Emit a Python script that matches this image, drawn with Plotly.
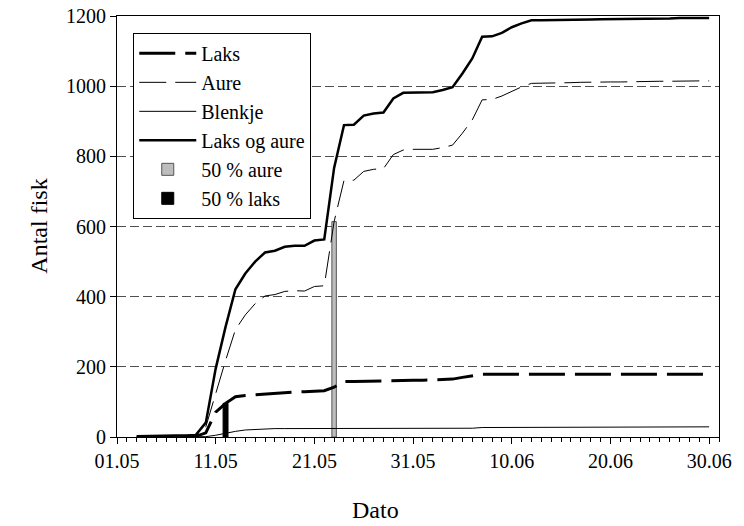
import pandas as pd
import plotly.graph_objects as go

# Daily counts from 03.05 to 30.06
dates = pd.date_range("2000-05-03", "2000-06-30", freq="D")

laks = [1, 1, 1, 1, 1, 1, 2, 12, 71, 96, 115, 118, 120, 124, 125, 127, 128, 129, 131, 132,
        142, 158, 158, 159, 159, 160, 160, 161, 162, 162, 163, 164, 165, 170, 175, 179, 179,
        179, 179, 179, 179, 179, 179, 179, 179, 179, 179, 179, 179, 179, 179, 179, 179, 179,
        179, 179, 179, 179, 179]
aure = [1, 2, 2, 2, 3, 3, 4, 29, 124, 218, 306, 348, 380, 402, 406, 415, 417, 416, 429, 431,
        614, 731, 732, 757, 763, 765, 805, 818, 820, 820, 820, 825, 832, 866, 904, 961, 962,
        972, 986, 998, 1008, 1008, 1008, 1009, 1010, 1011, 1012, 1012, 1012, 1012, 1013, 1013,
        1014, 1014, 1014, 1015, 1015, 1015, 1015]
blenkje = [0, 0, 0, 0, 0, 0, 0, 1, 5, 11, 16, 20, 22, 23, 24, 24, 24, 24, 24, 24,
           25, 25, 25, 25, 25, 25, 25, 25, 25, 25, 25, 25, 25, 25, 25, 27, 27, 27, 27, 27,
           27, 27, 27, 27, 27, 27, 27, 27, 27, 27, 27, 27, 29, 29, 29, 29, 29, 29, 29]
laks_og_aure = [2, 3, 3, 3, 4, 4, 6, 41, 195, 314, 421, 466, 500, 526, 531, 542, 545, 545,
                560, 563, 767, 889, 890, 916, 922, 925, 965, 981, 982, 983, 983, 989, 997,
                1036, 1079, 1141, 1142, 1152, 1168, 1179, 1188, 1188, 1188, 1188, 1188, 1189,
                1190, 1191, 1191, 1191, 1192, 1192, 1193, 1193, 1193, 1194, 1194, 1194, 1194]

# Dates when half of each species had passed
half_aure_date = ["2000-05-23"]
half_aure_value = [614]
half_laks_date = ["2000-05-12"]
half_laks_value = [96]

FONT = "Liberation Serif, Times New Roman, serif"
DAY_MS = 86400000

fig = go.Figure()

fig.add_trace(go.Bar(
    x=half_aure_date, y=half_aure_value, name="50 % aure", width=[0.45 * DAY_MS],
    marker=dict(color="#bdbdbd", line=dict(color="#555555", width=1)), legendrank=5))
fig.add_trace(go.Bar(
    x=half_laks_date, y=half_laks_value, name="50 % laks", width=[0.5 * DAY_MS],
    marker=dict(color="black", line=dict(color="black", width=1)), legendrank=6))

fig.add_trace(go.Scatter(
    x=dates, y=laks, name="Laks", mode="lines",
    line=dict(color="black", width=3, dash="36px,10px"), legendrank=1))
fig.add_trace(go.Scatter(
    x=dates, y=aure, name="Aure", mode="lines",
    line=dict(color="black", width=1, dash="27px,9px"), legendrank=2))
fig.add_trace(go.Scatter(
    x=dates, y=blenkje, name="Blenkje", mode="lines",
    line=dict(color="black", width=1), legendrank=3))
fig.add_trace(go.Scatter(
    x=dates, y=laks_og_aure, name="Laks og aure", mode="lines",
    line=dict(color="black", width=2.5), legendrank=4))

fig.update_layout(
    width=744, height=526,
    margin=dict(l=117, r=25, t=16, b=89, autoexpand=False),
    paper_bgcolor="white", plot_bgcolor="white",
    font=dict(family=FONT, size=20, color="black"),
    showlegend=True,
    barmode="overlay",
    legend=dict(
        x=0.027, y=0.96, xanchor="left", yanchor="top",
        bgcolor="white", bordercolor="black", borderwidth=1,
        font=dict(family=FONT, size=20), tracegroupgap=0, itemwidth=57,
    ),
    xaxis=dict(
        type="date", automargin=False,
        range=["2000-05-01", "2000-07-01"],
        tick0="2000-05-01", dtick=10 * DAY_MS, tickformat="%d.%m",
        ticks="outside", ticklen=6, tickcolor="black",
        showline=True, linecolor="black", linewidth=1, mirror=True,
        showgrid=False, zeroline=False,
        minor=dict(dtick=DAY_MS, tick0="2000-05-01", ticks="outside",
                   ticklen=4, tickcolor="black", showgrid=False),
        tickfont=dict(family=FONT, size=20),
    ),
    yaxis=dict(
        range=[0, 1200], dtick=200, automargin=False,
        ticks="outside", ticklen=6, tickcolor="black",
        showline=True, linecolor="black", linewidth=1, mirror=True,
        showgrid=True, gridcolor="#505050", gridwidth=1, griddash="9px,4px",
        zeroline=False,
        tickfont=dict(family=FONT, size=20),
    ),
    annotations=[
        dict(text="Dato", xref="paper", yref="paper", x=0.43, y=-0.173,
             xanchor="center", yanchor="middle", showarrow=False,
             font=dict(family=FONT, size=24)),
        dict(text="Antal fisk", xref="paper", yref="paper", x=-0.131, y=0.5,
             xanchor="center", yanchor="middle", showarrow=False, textangle=-90,
             font=dict(family=FONT, size=24)),
    ],
)

fig.write_html("out.html")
